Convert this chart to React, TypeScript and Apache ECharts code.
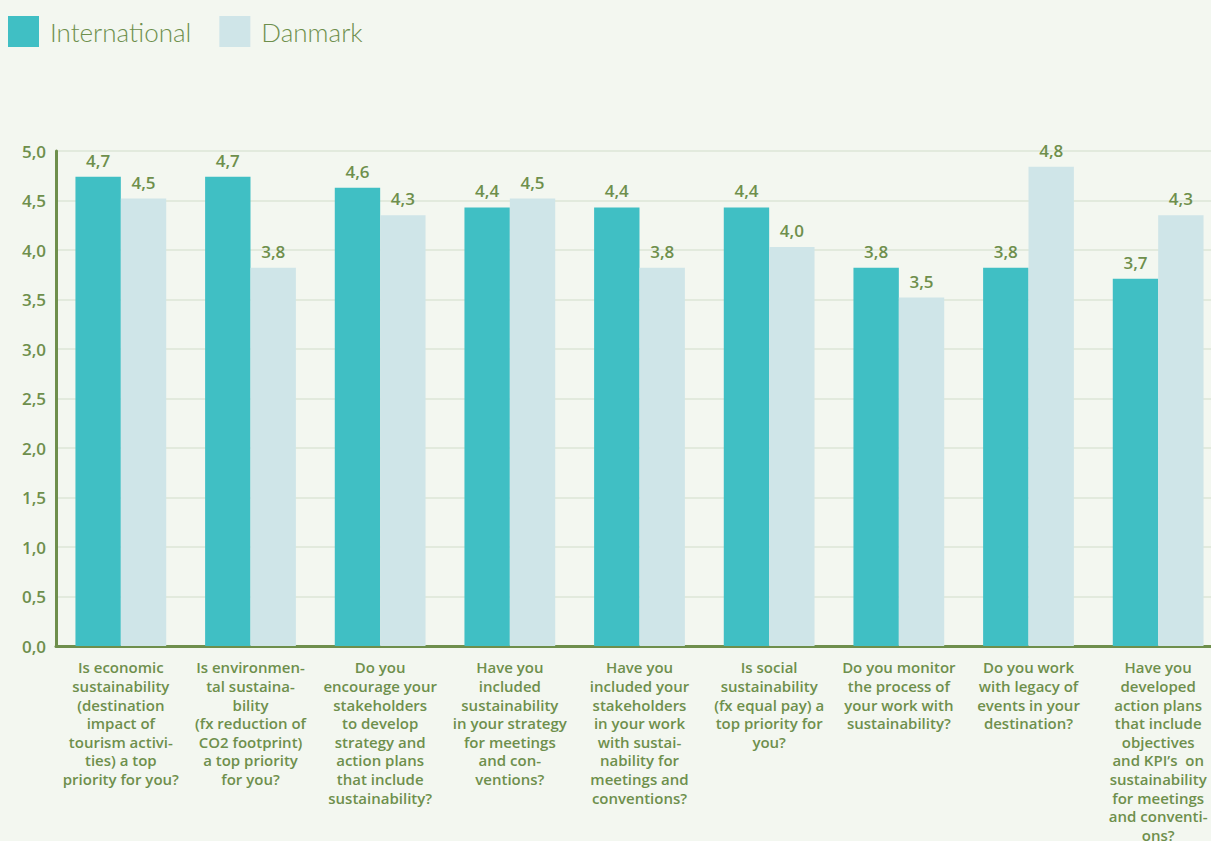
import React, { useEffect, useRef } from "react";
import * as echarts from "echarts";

const categories = [
  "Is economic\nsustainability\n(destination\nimpact of\ntourism activi-\nties) a top\npriority for you?",
  "Is environmen-\ntal sustaina-\nbility\n(fx reduction of\nCO2 footprint)\na top priority\nfor you?",
  "Do you\nencourage your\nstakeholders\nto develop\nstrategy and\naction plans\nthat include\nsustainability?",
  "Have you\nincluded\nsustainability\nin your strategy\nfor meetings\nand con-\nventions?",
  "Have you\nincluded your\nstakeholders\nin your work\nwith sustai-\nnability for\nmeetings and\nconventions?",
  "Is social\nsustainability\n(fx equal pay) a\ntop priority for\nyou?",
  "Do you monitor\nthe process of\nyour work with\nsustainability?",
  "Do you work\nwith legacy of\nevents in your\ndestination?",
  "Have you\ndeveloped\naction plans\nthat include\nobjectives\nand KPI’s  on\nsustainability\nfor meetings\nand conventi-\nons?",
];

const international = [4.74, 4.74, 4.63, 4.43, 4.43, 4.43, 3.82, 3.82, 3.71];
const danmark = [4.52, 3.82, 4.35, 4.52, 3.82, 4.03, 3.52, 4.84, 4.35];

const GREEN = "#6e8f4c";
const FONT = "'Open Sans', Lato, sans-serif";

const fmt = (v: number) => v.toFixed(1).replace(".", ",");

export default function App() {
  const ref = useRef<HTMLDivElement>(null);
  useEffect(() => {
    if (!ref.current) return;
    const chart = echarts.init(ref.current, null, { renderer: "svg" });
    const label = {
      show: true,
      position: "top" as const,
      distance: 8,
      color: GREEN,
      fontSize: 17,
      fontWeight: 600,
      fontFamily: FONT,
      formatter: (p: any) => fmt(p.value),
    };
    chart.setOption({
      animation: false,
      backgroundColor: "#f3f7f0",
      textStyle: { fontFamily: FONT },
      legend: {
        left: 8,
        top: 16,
        padding: 0,
        itemWidth: 31,
        itemHeight: 31,
        itemGap: 28,
        icon: "rect",
        textStyle: {
          fontSize: 26,
          color: GREEN,
          fontWeight: 300,
          fontFamily: "Lato, sans-serif",
          padding: [0, 0, 0, 6],
        },
        data: ["International", "Danmark"],
      },
      grid: {
        left: 56,
        top: 151,
        width: 1167,
        bottom: 195,
        containLabel: false,
        outerBoundsMode: "none",
      },
      xAxis: {
        type: "category",
        data: categories,
        axisLine: { show: true, lineStyle: { color: GREEN, width: 3 } },
        axisTick: { show: false },
        axisLabel: {
          interval: 0,
          color: GREEN,
          fontSize: 15,
          fontWeight: 600,
          fontFamily: FONT,
          lineHeight: 18.6,
          margin: 12,
          align: "center",
        },
      },
      yAxis: {
        type: "value",
        min: 0,
        max: 5,
        interval: 0.5,
        axisLine: { show: true, lineStyle: { color: GREEN, width: 3 } },
        axisTick: { show: false },
        splitLine: { lineStyle: { color: "#e2eadd", width: 2 } },
        axisLabel: {
          color: GREEN,
          fontSize: 17,
          fontWeight: 600,
          fontFamily: FONT,
          margin: 10,
          formatter: (v: number) => fmt(v),
        },
      },
      series: [
        {
          name: "International",
          type: "bar",
          data: international,
          barGap: "0%",
          barCategoryGap: "30%",
          itemStyle: { color: "#40bfc4" },
          label,
        },
        {
          name: "Danmark",
          type: "bar",
          data: danmark,
          itemStyle: { color: "#cfe5e8" },
          label,
        },
      ],
    });
    return () => chart.dispose();
  }, []);
  return <div ref={ref} style={{ width: 1211, height: 841, position: "absolute", left: 0, top: 0 }} />;
}
